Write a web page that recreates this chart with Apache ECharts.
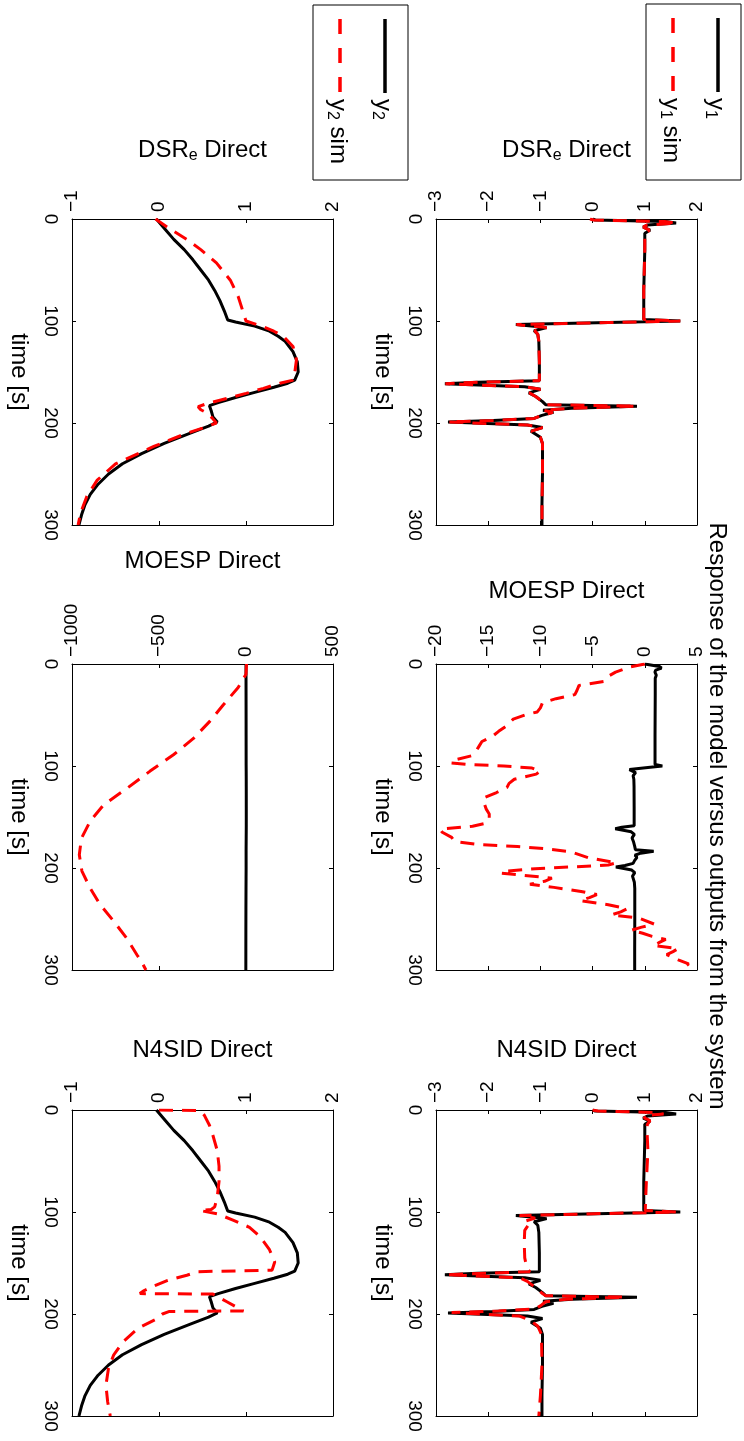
<!DOCTYPE html>
<html><head><meta charset="utf-8">
<script src="https://cdn.jsdelivr.net/npm/echarts@6/dist/echarts.min.js"></script>
<style>html,body{margin:0;padding:0;background:#fff}#c{width:744px;height:1441px}</style>
</head><body><div id="c"></div>
<script>
// ---------------- data (time in s, output values) ----------------
const tY1 = [0, 1, 2.5, 4, 6, 8, 11, 14, 18, 30, 50, 70, 90, 98.5, 100, 101.5, 103.5, 106.5, 109.5, 113, 120, 140, 158.5, 160, 161.5, 164.5, 167, 170.5, 174, 179, 182, 183.5, 185.5, 187.5, 189.5, 192.5, 195.5, 197.5, 199, 202, 204.5, 208, 214, 220, 250, 280, 300];
const y1 = [0, 0.05, 1.4, 1.6, 1.05, 0.97, 1.1, 1.0, 1.0, 1.0, 0.99, 0.98, 0.98, 0.98, 1.68, 0.3, -1.47, -0.88, -1.12, -1.05, -1.03, -1.02, -1.02, -2.2, -2.83, -1.3, -1.0, -1.22, -1.09, -0.96, -0.9, 0.85, -0.4, -0.95, -0.75, -0.97, -1.12, -1.9, -2.77, -1.25, -0.96, -1.18, -1.0, -0.96, -0.96, -0.97, -0.97];
const y1DsrSim = [-0.05, 0.02, 1.38, 1.6, 1.04, 0.97, 1.09, 1.0, 1.0, 1.0, 0.99, 0.98, 0.98, 0.98, 1.68, 0.3, -1.46, -0.88, -1.11, -1.05, -1.03, -1.02, -1.02, -2.2, -2.82, -1.3, -1.0, -1.21, -1.09, -0.96, -0.9, 0.84, -0.4, -0.95, -0.76, -0.97, -1.12, -1.9, -2.76, -1.25, -0.96, -1.17, -1.0, -0.96, -0.96, -0.97, -0.97];
const tY1Mo = [0, 3, 8, 12, 17, 21, 26, 30, 34, 38, 43, 47, 50, 54, 58, 61, 66, 71, 76, 81, 86, 90, 94, 97, 98.5, 100, 102, 105, 108, 113, 117, 121, 126, 131, 136, 142, 147, 152, 156, 159, 162, 165, 170, 174, 177, 179, 181, 184, 190, 195, 197, 198, 199.3, 200.7, 203, 205, 207, 210, 213, 216, 219, 223, 226, 229, 232, 236, 240, 243, 246, 249, 255, 258, 261, 264, 267, 270, 273, 276, 279, 282, 285, 290, 294, 298, 300];
const y1MoSim = [0, -1.5, -2.8, -3.5, -3.9, -6.3, -6.5, -6.7, -8.5, -9.8, -10.0, -10.3, -11.5, -12.6, -13.0, -13.3, -14.0, -14.6, -15.6, -15.9, -16.2, -16.6, -18.2, -18.6, -17.0, -13.5, -10.8, -10.0, -10.4, -12.5, -13.0, -13.2, -14.2, -15.4, -15.4, -15.2, -14.9, -14.9, -15.2, -16.5, -19.6, -19.4, -18.5, -18.2, -15.9, -12.2, -9.7, -7.1, -5.4, -2.7, -3.5, -4.8, -7.8, -10.5, -13.3, -13.8, -11.8, -8.9, -9.6, -11.0, -8.7, -6.1, -4.6, -5.3, -6.2, -3.5, -1.7, -2.3, -3.2, -0.6, 0.9, -0.3, -1.3, -0.2, 0.7, 2.0, 1.4, 0.8, 3.2, 2.7, 2.1, 3.2, 4.2, 3.7, 3.3];
const tY1N4 = [0, 1, 2.5, 4, 5.5, 8, 10.5, 14, 18, 40, 70, 96, 98.5, 100, 101.5, 103.5, 106, 109, 112, 118, 130, 145, 155, 158.5, 160, 161.5, 164.5, 168, 172, 176, 180, 182, 183.5, 185.5, 188, 192, 195, 197, 198.5, 202, 205, 208, 212, 220, 250, 280, 300];
const y1N4Sim = [0, 0.1, 1.2, 1.36, 0.98, 1.0, 1.1, 1.05, 1.04, 1.06, 1.03, 1.01, 1.01, 1.62, 0.2, -1.40, -1.1, -1.30, -1.22, -1.30, -1.31, -1.30, -1.26, -1.2, -2.0, -2.80, -1.4, -1.25, -1.15, -1.05, -0.96, -0.9, 0.62, -0.5, -0.9, -1.0, -1.1, -1.8, -2.7, -1.4, -1.25, -1.15, -1.05, -0.98, -0.97, -1.0, -1.03];

const tY2 = [0, 10, 20, 30, 40, 50, 60, 70, 80, 90, 99, 101, 105, 110, 115, 120, 130, 140, 150, 158, 161, 165, 170, 175, 180, 183, 188, 194, 199, 203, 210, 220, 230, 240, 250, 260, 270, 280, 290, 300];
const y2 = [-0.03, 0.07, 0.17, 0.29, 0.39, 0.48, 0.57, 0.64, 0.70, 0.75, 0.79, 0.88, 1.10, 1.27, 1.37, 1.45, 1.54, 1.59, 1.60, 1.56, 1.48, 1.32, 1.10, 0.88, 0.68, 0.58, 0.60, 0.62, 0.67, 0.57, 0.36, 0.06, -0.20, -0.42, -0.58, -0.70, -0.79, -0.85, -0.89, -0.92];
const tY2Dsr = [0, 10, 20, 30, 43, 60, 76, 92, 100, 105, 110, 115, 125, 138, 151, 158, 161, 166, 171, 176, 181, 184, 187, 190, 195, 200, 205, 210, 223, 240, 256, 272, 288, 300];
const y2DsrSim = [-0.04, 0.13, 0.32, 0.48, 0.66, 0.82, 0.91, 0.97, 1.0, 1.18, 1.32, 1.43, 1.54, 1.58, 1.56, 1.54, 1.39, 1.2, 1.0, 0.78, 0.55, 0.45, 0.48, 0.55, 0.61, 0.66, 0.50, 0.32, -0.06, -0.50, -0.71, -0.83, -0.90, -0.93];
const tY2Mo = [0, 10, 23, 40, 56, 73, 89, 105, 122, 138, 154, 171, 187, 203, 220, 236, 252, 269, 285, 292, 300];
const y2MoSim = [3, 0, -45, -130, -207, -302, -417, -551, -685, -818, -895, -946, -958, -943, -895, -838, -761, -685, -627, -600, -575];
const tY2N4 = [0, 0.5, 5, 15, 25, 40, 55, 70, 85, 95, 97.5, 98.5, 102, 108, 115, 124, 137, 149, 157, 158.5, 162, 167, 172, 177, 180, 180.5, 188, 197, 197.5, 200, 205, 214, 227, 240, 253, 270, 286, 300];
const y2N4Sim = [0, 0.47, 0.52, 0.58, 0.62, 0.67, 0.69, 0.69, 0.67, 0.64, 0.60, 0.47, 0.68, 0.85, 1.04, 1.16, 1.27, 1.33, 1.30, 0.45, 0.32, 0.10, -0.04, -0.17, -0.22, 0.62, 0.78, 0.97, 0.12, 0.04, -0.03, -0.24, -0.41, -0.52, -0.58, -0.61, -0.59, -0.56];

const timeTicks = [0, 300, 100];           // min, max, step of the time axis
const methodNames = ['DSR', 'MOESP Direct', 'N4SID Direct'];
const titleText = 'Response of the model versus outputs from the system';
const xLabelText = 'time [s]';

// ---------------- layout ----------------
const FONT = '"Liberation Sans", Arial, Helvetica, sans-serif';
const TICK_FS = 19, LABEL_FS = 24;
const W = 261, H = 306;
const RIGHT = 436, LEFT = 72, TOPS = [219, 664, 1110];

const panels = [
  {left: RIGHT, top: TOPS[0], min: -3, max: 2, step: 1, name: 0, gap: 55, black: [tY1, y1], red: [tY1, y1DsrSim]},
  {left: RIGHT, top: TOPS[1], min: -20, max: 5, step: 5, name: 1, gap: 59, black: [tY1, y1], red: [tY1Mo, y1MoSim]},
  {left: RIGHT, top: TOPS[2], min: -3, max: 2, step: 1, name: 2, gap: 46, black: [tY1, y1], red: [tY1N4, y1N4Sim]},
  {left: LEFT, top: TOPS[0], min: -1, max: 2, step: 1, name: 0, gap: 55, black: [tY2, y2], red: [tY2Dsr, y2DsrSim]},
  {left: LEFT, top: TOPS[1], min: -1000, max: 500, step: 500, name: 1, gap: 89, black: [tY2, y2], red: [tY2Mo, y2MoSim]},
  {left: LEFT, top: TOPS[2], min: -1, max: 2, step: 1, name: 2, gap: 46, black: [tY2, y2], red: [tY2N4, y2N4Sim]}
];

const fmt = v => String(v).replace('-', '\u2212');
const axisLine = {show: true, onZero: false, lineStyle: {color: '#000', width: 1}};
const axisTick = {show: true, inside: true, length: 4, lineStyle: {color: '#000', width: 1}};

const grids = [], xAxes = [], yAxes = [], series = [];
panels.forEach((p, i) => {
  grids.push({left: p.left, top: p.top, width: W, height: H, containLabel: false, outerBoundsMode: 'none', show: false});
  const nm = p.name === 0 ? '{n|DSR}{s|e}{n| Direct}' : '{n|' + methodNames[p.name] + '}';
  xAxes.push({
    type: 'value', gridIndex: i, position: 'top', min: p.min, max: p.max, interval: p.step,
    axisLine, axisTick, splitLine: {show: false},
    axisLabel: {rotate: -90, margin: 7, color: '#000', fontSize: TICK_FS, fontFamily: FONT, formatter: fmt},
    name: nm, nameLocation: 'middle', nameGap: p.gap, nameMoveOverlap: false,
    nameTextStyle: {color: '#000', rich: {
      n: {fontSize: LABEL_FS, fontFamily: FONT, color: '#000', lineHeight: 28, verticalAlign: 'middle'},
      s: {fontSize: 16, fontFamily: FONT, color: '#000', lineHeight: 12, verticalAlign: 'bottom'}
    }}
  });
  xAxes.push({
    type: 'value', gridIndex: i, position: 'bottom', min: p.min, max: p.max, interval: p.step,
    axisLine, axisTick, splitLine: {show: false}, axisLabel: {show: false}
  });
  yAxes.push({
    type: 'value', gridIndex: i, position: 'left', inverse: true,
    min: timeTicks[0], max: timeTicks[1], interval: timeTicks[2],
    axisLine, axisTick, splitLine: {show: false},
    axisLabel: {rotate: -90, margin: 12, color: '#000', fontSize: TICK_FS, fontFamily: FONT},
    name: xLabelText, nameLocation: 'middle', nameGap: 41, nameRotate: -90, nameMoveOverlap: false,
    nameTextStyle: {color: '#000', fontSize: LABEL_FS, fontFamily: FONT}
  });
  yAxes.push({
    type: 'value', gridIndex: i, position: 'right', inverse: true,
    min: timeTicks[0], max: timeTicks[1], interval: timeTicks[2],
    axisLine, axisTick, splitLine: {show: false}, axisLabel: {show: false}
  });
  const pairs = (t, v) => t.map((tt, k) => [v[k], tt]);
  series.push({
    type: 'line', xAxisIndex: 2 * i, yAxisIndex: 2 * i, data: pairs(p.black[0], p.black[1]),
    showSymbol: false, symbol: 'none', lineStyle: {color: '#000', width: 3}, z: 2
  });
  series.push({
    type: 'line', xAxisIndex: 2 * i, yAxisIndex: 2 * i, data: pairs(p.red[0], p.red[1]),
    showSymbol: false, symbol: 'none', lineStyle: {color: '#ff0000', width: 3, type: [14, 9]}, z: 3
  });
});

// ---------------- legends & title (rotated like the figure) ----------------
const legRich = {
  a: {fontSize: 24, fontFamily: FONT, fill: '#000', color: '#000', lineHeight: 28, verticalAlign: 'middle'},
  b: {fontSize: 16, fontFamily: FONT, fill: '#000', color: '#000', lineHeight: 10, verticalAlign: 'bottom'}
};
function legend(x0, y0, w, h, idx) {
  const xr = x0 + w - 23, xs = x0 + 27;
  return [
    {type: 'rect', shape: {x: x0, y: y0, width: w, height: h}, style: {fill: '#fff', stroke: '#000', lineWidth: 1}, z: 10},
    {type: 'line', shape: {x1: xr, y1: y0 + 14, x2: xr, y2: y0 + 88}, style: {stroke: '#000', lineWidth: 3.5}, z: 11},
    {type: 'line', shape: {x1: xs, y1: y0 + 14, x2: xs, y2: y0 + 88}, style: {stroke: '#ff0000', lineWidth: 3.5, lineDash: [15, 14]}, z: 11},
    {type: 'text', x: xr - 2, y: y0 + 94, rotation: -Math.PI / 2, z: 11,
     style: {text: '{a|y}{b|' + idx + '}', rich: legRich, align: 'left', verticalAlign: 'middle'}},
    {type: 'text', x: xs - 2, y: y0 + 94, rotation: -Math.PI / 2, z: 11,
     style: {text: '{a|y}{b|' + idx + '}{a| sim}', rich: legRich, align: 'left', verticalAlign: 'middle'}}
  ];
}

const graphic = [
  {type: 'text', x: 717, y: 816, rotation: -Math.PI / 2,
   style: {text: titleText, fontSize: LABEL_FS, fontFamily: FONT, fill: '#000', align: 'center', verticalAlign: 'middle'}}
].concat(legend(646, 4, 95, 176, 1)).concat(legend(313, 5, 95, 175, 2));

const chart = echarts.init(document.getElementById('c'), null, {renderer: 'canvas'});
chart.setOption({
  animation: false,
  backgroundColor: '#fff',
  grid: grids, xAxis: xAxes, yAxis: yAxes, series, graphic
});
</script></body></html>
